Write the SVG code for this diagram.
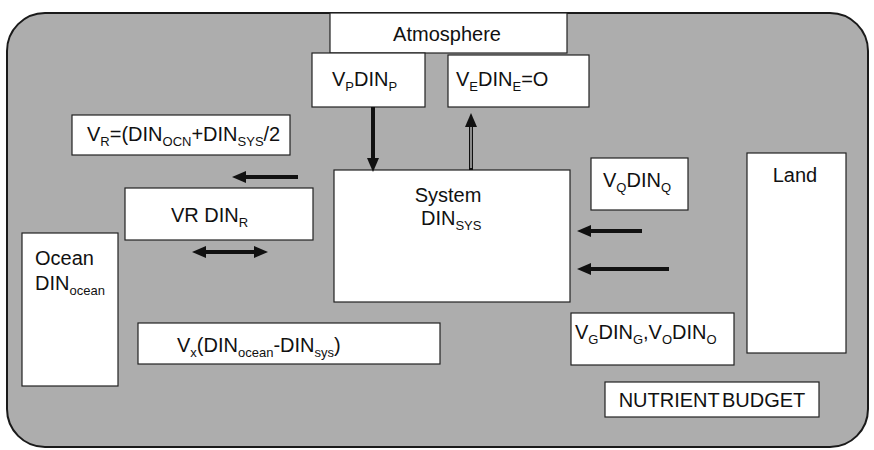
<svg xmlns="http://www.w3.org/2000/svg" width="874" height="450" viewBox="0 0 874 450">
<style>
  .bg { fill: #adadad; stroke: #1a1a1a; stroke-width: 2; }
  .box { fill: #ffffff; stroke: #222; stroke-width: 1.2; }
  text { font-family: "Liberation Sans", Arial, sans-serif; fill: #111; font-size: 20px; }
  .sub { font-size: 13px; }
  .arr { stroke: #111; stroke-width: 4; fill: none; }
</style>
<defs>
  <marker id="head" markerUnits="userSpaceOnUse" markerWidth="14" markerHeight="12" viewBox="0 0 14 12" refX="2" refY="6" orient="auto-start-reverse">
    <path d="M0,0 L14,6 L0,12 z" fill="#111"/>
  </marker>
</defs>
<rect class="bg" x="7" y="13" width="861" height="434" rx="38" ry="38"/>

<g id="atmosphere">
  <rect class="box" x="330" y="13" width="237" height="40"/>
  <text x="447" y="41" text-anchor="middle" font-size="21">Atmosphere</text>
</g>
<g id="vp">
  <rect class="box" x="312" y="53" width="113" height="54"/>
  <text x="332" y="86">V<tspan class="sub" dy="5">P</tspan><tspan dy="-5">DIN</tspan><tspan class="sub" dy="5">P</tspan></text>
</g>
<g id="ve">
  <rect class="box" x="448" y="55" width="141" height="52"/>
  <text x="456" y="86" font-size="22">V<tspan class="sub" dy="5">E</tspan><tspan dy="-5">DIN</tspan><tspan class="sub" dy="5">E</tspan><tspan dy="-5">=O</tspan></text>
</g>
<g id="vr-eq">
  <rect class="box" x="72" y="115" width="218" height="40"/>
  <text x="87" y="141">V<tspan class="sub" dy="5">R</tspan><tspan dy="-5">=(DIN</tspan><tspan class="sub" dy="5">OCN</tspan><tspan dy="-5">+DIN</tspan><tspan class="sub" dy="5">SYS</tspan><tspan dy="-5">/2</tspan></text>
</g>
<g id="vrdin">
  <rect class="box" x="125" y="188" width="188" height="52"/>
  <text x="171" y="222">VR DIN<tspan class="sub" dy="5">R</tspan></text>
</g>
<g id="system">
  <rect class="box" x="334" y="170" width="236" height="132"/>
  <text x="448" y="202" text-anchor="middle" font-size="21">System</text>
  <text x="421" y="225">DIN<tspan class="sub" dy="5">SYS</tspan></text>
</g>
<g id="vq">
  <rect class="box" x="591" y="158" width="97" height="52"/>
  <text x="603" y="187" font-size="21">V<tspan class="sub" dy="5">Q</tspan><tspan dy="-5">DIN</tspan><tspan class="sub" dy="5">Q</tspan></text>
</g>
<g id="land">
  <rect class="box" x="747" y="153" width="99" height="200"/>
  <text x="795" y="182" text-anchor="middle">Land</text>
</g>
<g id="ocean">
  <rect class="box" x="22" y="233" width="96" height="153"/>
  <text x="35" y="265" font-size="21">Ocean</text>
  <text x="35" y="290" font-size="21">DIN<tspan class="sub" dy="5" font-size="12">ocean</tspan></text>
</g>
<g id="vx">
  <rect class="box" x="138" y="323" width="302" height="41"/>
  <text x="177" y="352">V<tspan class="sub" dy="5">x</tspan><tspan dy="-5">(DIN</tspan><tspan class="sub" dy="5">ocean</tspan><tspan dy="-5">-DIN</tspan><tspan class="sub" dy="5">sys</tspan><tspan dy="-5">)</tspan></text>
</g>
<g id="vg">
  <rect class="box" x="571" y="313" width="163" height="52"/>
  <text x="575" y="339">V<tspan class="sub" dy="5">G</tspan><tspan dy="-5">DIN</tspan><tspan class="sub" dy="5">G</tspan><tspan dy="-5">,V</tspan><tspan class="sub" dy="5">O</tspan><tspan dy="-5">DIN</tspan><tspan class="sub" dy="5">O</tspan></text>
</g>
<g id="budget">
  <rect class="box" x="605" y="382" width="214" height="35"/>
  <text x="712" y="407" text-anchor="middle" word-spacing="-3">NUTRIENT BUDGET</text>
</g>

<g id="connectors">
  <line class="arr" x1="373" y1="107" x2="373" y2="160" marker-end="url(#head)"/>
  <line class="arr" x1="471" y1="170" x2="471" y2="125" stroke-width="5" marker-end="url(#head)"/>
  <line x1="471" y1="168" x2="471" y2="127" stroke="#cfcfcf" stroke-width="1.3"/>
  <line class="arr" x1="298" y1="177" x2="244" y2="177" marker-end="url(#head)"/>
  <line class="arr" x1="204" y1="252" x2="256" y2="252" marker-start="url(#head)" marker-end="url(#head)"/>
  <line class="arr" x1="642" y1="231" x2="589" y2="231" marker-end="url(#head)"/>
  <line class="arr" x1="669" y1="269" x2="589" y2="269" marker-end="url(#head)"/>
</g>
</svg>
